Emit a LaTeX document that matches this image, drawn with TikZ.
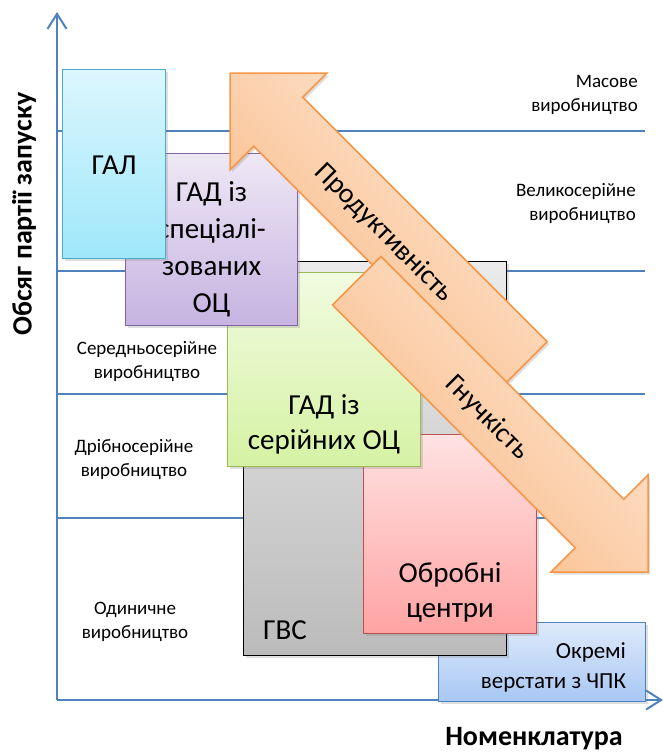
\documentclass[tikz,border=0pt]{standalone}
\usepackage{fontspec}
\setmainfont{Carlito}
\usepackage{tikz}
\usetikzlibrary{arrows.meta,positioning,calc,shadows}

\definecolor{axisblue}{HTML}{4F81BD}
\definecolor{galtop}{HTML}{DCF6FD}
\definecolor{galbot}{HTML}{9EE7FA}
\definecolor{galline}{HTML}{4BACC6}
\definecolor{spectop}{HTML}{EEE8F5}
\definecolor{specbot}{HTML}{C6B3E1}
\definecolor{specline}{HTML}{8064A2}
\definecolor{sertop}{HTML}{F1FBE1}
\definecolor{serbot}{HTML}{D5F2A3}
\definecolor{serline}{HTML}{9BBB59}
\definecolor{octop}{HTML}{FFE2E2}
\definecolor{ocbot}{HTML}{FFA3A3}
\definecolor{ocline}{HTML}{C0504D}
\definecolor{cnctop}{HTML}{DEEAFB}
\definecolor{cncbot}{HTML}{A8C7F4}
\definecolor{gvstop}{HTML}{EBEBEB}
\definecolor{gvsbot}{HTML}{BBBBBB}
\definecolor{arrlight}{HTML}{FDE9DA}
\definecolor{arrdark}{HTML}{FAB880}
\definecolor{arrline}{HTML}{F79646}

\begin{document}
\begin{tikzpicture}[
  x=1pt, y=-1pt,
  box/.style={draw, line width=1.2pt, anchor=north west, inner sep=0pt,
              drop shadow={shadow xshift=2pt, shadow yshift=-2.5pt, opacity=0.25}},
  boxtext/.style={font=\fontsize{29}{35}\selectfont, align=center, inner sep=0pt},
  sidetext/.style={font=\fontsize{19}{24}\selectfont, inner sep=0pt},
  axislabel/.style={font=\fontsize{28}{32}\selectfont\bfseries, inner sep=0pt},
  grid/.style={axisblue, line width=1.3pt},
  axis/.style={axisblue, line width=2pt, -{Straight Barb[length=15pt,width=19pt]}},
  bigarrow/.style={draw=arrline, line width=1.5pt, top color=arrlight,
                   bottom color=arrdark, shading angle=-45,
                   drop shadow={shadow xshift=2pt, shadow yshift=-2.5pt, opacity=0.25}},
  arrowtext/.style={font=\fontsize{28}{30}\selectfont, rotate=-45, inner sep=0pt},
]
\useasboundingbox (0,0) rectangle (664,753);

% Axes and production levels
\coordinate (origin) at (57,700);
\coordinate (ytop) at (57,12);
\coordinate (xend) at (663,700);
\foreach \y in {131,271,394,518}
  \draw[grid] (57,\y) -- (645,\y);
\draw[axis] (origin) -- (ytop);
\draw[axis] (origin) -- (xend);

\node[sidetext, align=right, anchor=east] (mass) at (638,95) {Масове\\виробництво};
\node[sidetext, align=right, anchor=east] (large) at (636,204) {Великосерійне\\виробництво};
\node[sidetext, align=center] (medium) at (147,362) {Середньосерійне\\виробництво};
\node[sidetext, align=center] (small) at (134,460) {Дрібносерійне\\виробництво};
\node[sidetext, align=center] (single) at (135,622) {Одиничне\\виробництво};

\node[axislabel, rotate=90] (ylabel) at (24,214) {Обсяг партії запуску};
\node[axislabel, anchor=base] (xlabel) at (534,745) {Номенклатура};

% Boxes, back to front
\node[box, draw=axisblue, top color=cnctop, bottom color=cncbot,
      minimum width=207, minimum height=79] (cnc) at (438,622) {};
\node[boxtext, font=\fontsize{23}{30}\selectfont, align=right, anchor=east]
  (cnctext) at ($(cnc.east)+(-20,5)$) {Окремі\\верстати з ЧПК};

\node[box, draw=black, top color=gvstop, bottom color=gvsbot,
      minimum width=263, minimum height=394] (gvs) at (243,261) {};
\node[boxtext, anchor=base west] (gvstext) at ($(gvs.south west)+(20,-17)$) {ГВС};

\node[box, draw=ocline, top color=octop, bottom color=ocbot,
      minimum width=173, minimum height=199] (oc) at (363,434) {};
\node[boxtext] (octext) at ($(oc.center)+(0,58)$) {Обробні\\центри};

\node[box, draw=serline, top color=sertop, bottom color=serbot,
      minimum width=193, minimum height=194] (ser) at (227,272) {};
\node[boxtext] (sertext) at ($(ser.center)+(0,55)$) {ГАД із\\серійних ОЦ};

\node[box, draw=specline, top color=spectop, bottom color=specbot,
      minimum width=172, minimum height=172] (spec) at (125,153) {};
\node[boxtext, font=\fontsize{29}{37}\selectfont] (spectext) at ($(spec.center)+(0,10)$)
  {ГАД із\\спеціалі-\\зованих\\ОЦ};

\node[box, draw=galline, top color=galtop, bottom color=galbot,
      minimum width=103, minimum height=189] (gal) at (62,69) {};
\node[boxtext] (galtext) at ($(gal.center)+(0,1)$) {ГАЛ};

% Productivity arrow (up-left)
\path[bigarrow] (230,73) -- (327,73) -- (302.75,97.25) -- (547.25,341.75)
  -- (498.25,390.75) -- (253.75,146.25) -- (230,170) -- cycle;
\node[arrowtext] (prod) at (384,233) {Продуктивність};

% Flexibility arrow (down-right)
\path[bigarrow] (648,572) -- (551,572) -- (575.25,547.75) -- (332.5,305)
  -- (381,256.5) -- (623.75,499.25) -- (648,475) -- cycle;
\node[arrowtext] (flex) at (487,418) {Гнучкість};
\end{tikzpicture}
\end{document}
